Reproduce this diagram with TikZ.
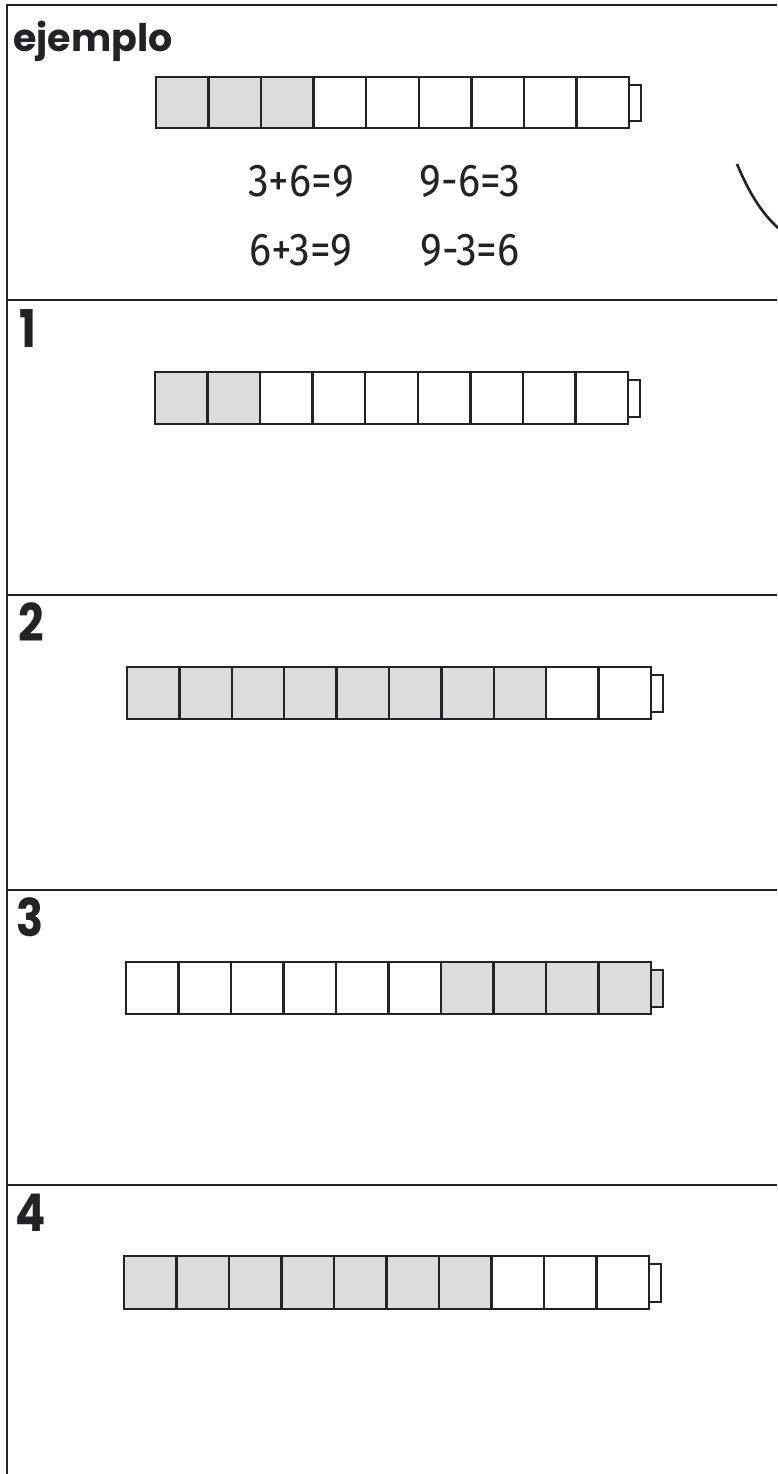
\documentclass[tikz,border=0pt]{standalone}
\usepackage{fontspec}
\setmainfont{Poppins}
\newfontfamily\handfont{Fira Sans}
\definecolor{cellgray}{RGB}{220,220,221}
\definecolor{ink}{RGB}{35,35,38}
\tikzset{
  frameline/.style={line width=2.6pt, ink},
  cellbox/.style={draw=ink, line width=2.4pt},
  shaded/.style={cellbox, fill=cellgray},
  plain/.style={cellbox, fill=white},
  label/.style={font=\fontsize{52}{52}\selectfont\bfseries, text=ink, inner sep=0pt, anchor=base west},
  title/.style={font=\fontsize{38}{38}\selectfont\bfseries, text=ink, inner sep=0pt, anchor=base west},
  eq/.style={font=\handfont\fontsize{46}{46}\selectfont, text=ink, inner sep=0pt},
}
\newcommand{\narrow}[1]{\scalebox{0.86}[1]{#1}}
\newcommand{\eqtext}[1]{\scalebox{0.9}[1]{#1}}
% \cubebar{left}{top}{right}{bottom}{n}{list of shaded indices}{cap style}
\newcommand{\cubebar}[7]{%
  \pgfmathsetmacro{\cw}{(#3-#1)/#5}%
  \foreach \i in {1,...,#5}{%
    \gdef\sty{plain}%
    \foreach \j in {#6}{\ifnum\i=\j\relax\gdef\sty{shaded}\fi}%
    \draw[\sty] ({#1+(\i-1)*\cw},#2) rectangle ({#1+\i*\cw},#4);
  }%
  \draw[#7] (#3,{#2+8}) rectangle ({#3+12},{#4-7});
}
\begin{document}
\begin{tikzpicture}[x=1pt,y=-1pt]
\useasboundingbox (0,0) rectangle (777,1474);
\fill[white] (0,0) rectangle (777,1474);
% frame
\coordinate (tl) at (7,4);
\coordinate (bl) at (7,1474);
\draw[frameline] (tl) -- (bl);
\foreach \yy/\nm in {5/s0,300/s1,595/s2,890/s3,1185/s4}{
  \coordinate (\nm L) at (7,\yy);
  \coordinate (\nm R) at (777,\yy);
  \draw[frameline] (\nm L) -- (\nm R);
}
% labels
\node[title] (lab0) at (13,52) {ejemplo};
\node[label] (lab1) at (19,347) {\narrow{1}};
\node[label] (lab2) at (18,641) {\narrow{2}};
\node[label] (lab3) at (16,936) {\narrow{3}};
\node[label] (lab4) at (15,1231) {\narrow{4}};
% bars
\cubebar{156}{77}{629}{128}{9}{1,2,3}{plain}
\cubebar{155}{372}{628}{424}{9}{1,2}{plain}
\cubebar{127}{667}{651}{719}{10}{1,2,3,4,5,6,7,8}{plain}
\cubebar{126}{962}{651}{1014}{10}{7,8,9,10}{shaded}
\cubebar{124}{1256}{649}{1309}{10}{1,2,3,4,5,6,7}{plain}
% equations
\node[eq] (e1) at (301,181) {\eqtext{3+6=9}};
\node[eq] (e2) at (470,181) {\eqtext{9-6=3}};
\node[eq] (e3) at (301,250) {\eqtext{6+3=9}};
\node[eq] (e4) at (470,250) {\eqtext{9-3=6}};
% arc on right edge
\coordinate (a1) at (737,164);
\coordinate (a2) at (778,228);
\draw[line width=2.6pt, ink] (a1) .. controls (750,195) and (762,213) .. (a2);
\end{tikzpicture}
\end{document}
